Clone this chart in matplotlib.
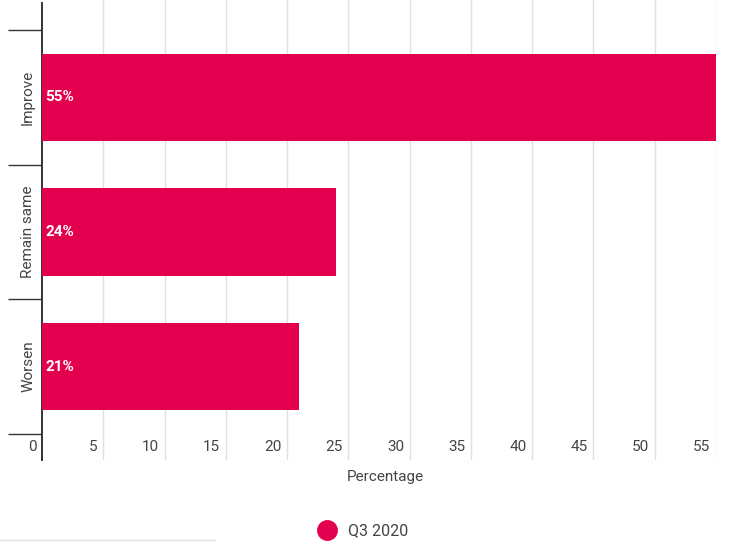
import matplotlib.pyplot as plt
from matplotlib.lines import Line2D
from matplotlib.transforms import blended_transform_factory

plt.rcParams["font.family"] = ["Roboto", "DejaVu Sans"]

categories = ["Improve", "Remain same", "Worsen"]
values = [55, 24, 21]
x_ticks = [0, 5, 10, 15, 20, 25, 30, 35, 40, 45, 50, 55]
series_name = "Q3 2020"

BAR_COLOR = "#e3004f"
TEXT_COLOR = "#444444"
AXIS_COLOR = "#333333"

fig = plt.figure(figsize=(7.29, 5.44), dpi=100)
ax = fig.add_axes([42 / 729, 84 / 544, (716 - 42) / 729, 460 / 544])

pos = list(range(len(categories)))
ax.barh(pos, values, height=0.65, color=BAR_COLOR, zorder=3)

for p, v in zip(pos, values):
    ax.text(0.25, p, f"{v}%", color="white", fontsize=11, fontweight="bold",
            va="center", ha="left", zorder=4)

ax.set_xlim(0, 55)
ax.set_ylim(2.693, -0.723)

# vertical gridlines and x labels sitting left of each line
for t in x_ticks[1:]:
    ax.axvline(t, color="#e0e0e0", lw=1, zorder=1)
ax.set_xticks([])
trans = blended_transform_factory(ax.transData, ax.transAxes)
for t in x_ticks:
    ax.text(t - 0.45, 26 / 460 * 0.5, str(t), transform=trans, ha="right",
            va="center", fontsize=11, color=TEXT_COLOR)

# category bands: long ticks on the edges, labels in the middle
ax.set_yticks([-0.5, 0.5, 1.5, 2.5])
ax.set_yticklabels([])
ax.tick_params(axis="y", which="major", length=24.5, width=1, color=AXIS_COLOR)
ax.set_yticks(pos, minor=True)
ax.set_yticklabels(categories, minor=True, rotation=90, va="center",
                   fontsize=11, color=TEXT_COLOR)
ax.tick_params(axis="y", which="minor", length=0, pad=5)

for side in ["top", "right", "bottom"]:
    ax.spines[side].set_visible(False)
ax.spines["left"].set_color(AXIS_COLOR)
ax.spines["left"].set_linewidth(1.4)
ax.spines["left"].set_bounds(2.693, -0.70)

fig.text(385 / 729, 1 - 477 / 544, "Percentage", ha="center", va="center",
         fontsize=11, color=TEXT_COLOR)

legend_handle = Line2D([], [], marker="o", color="none", markerfacecolor=BAR_COLOR,
                       markeredgecolor=BAR_COLOR, markersize=14)
fig.legend([legend_handle], [series_name], loc="center",
           bbox_to_anchor=(360 / 729, 1 - 531 / 544), frameon=False,
           fontsize=11.5, labelcolor=TEXT_COLOR, handletextpad=0.3)

fig.add_artist(Line2D([0, 215 / 729], [1 - 540 / 544] * 2, color="#e0e0e0", lw=1))

fig.savefig("out.png", dpi=100)
